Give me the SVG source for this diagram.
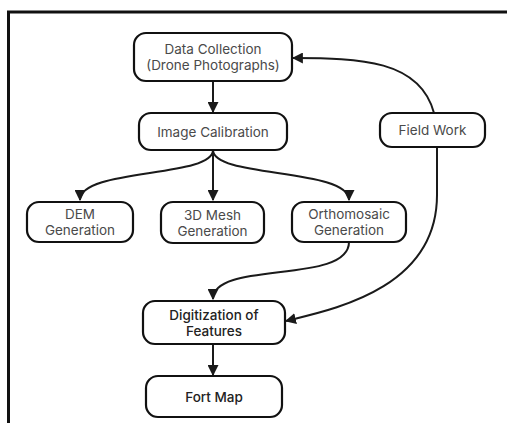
<svg xmlns="http://www.w3.org/2000/svg" width="507" height="423" viewBox="0 0 507 423">
<defs>
<style>
.n{fill:#fff;stroke:#111;stroke-width:2.2}
.t{font-family:Inter,"Liberation Sans",sans-serif;font-size:13.5px;fill:#4a4a4a;text-anchor:middle}
.b{fill:#222;font-weight:500}
.c{fill:none;stroke:#1a1a1a;stroke-width:2}
</style>
<marker id="ah" viewBox="0 0 10 10" refX="9" refY="5" markerWidth="5.5" markerHeight="5.5" orient="auto" markerUnits="strokeWidth">
<path d="M0,0 L10,5 L0,10 z" fill="#1a1a1a"/>
</marker>
</defs>
<rect width="507" height="423" fill="#fff"/>
<rect x="8.5" y="12" width="520" height="440" fill="none" stroke="#111" stroke-width="3"/>
<g id="connectors">
<path class="c" d="M213,81 L213,112" marker-end="url(#ah)"/>
<path class="c" d="M213,150 C213,178 80,168 80,200" marker-end="url(#ah)"/>
<path class="c" d="M213,150 L213,200" marker-end="url(#ah)"/>
<path class="c" d="M213,150 C213,178 349,168 349,200" marker-end="url(#ah)"/>
<path class="c" d="M349,242 C349,285 213,260 213,299" marker-end="url(#ah)"/>
<path class="c" d="M213,344 L213,375" marker-end="url(#ah)"/>
<path class="c" d="M434,113 C420,60 360,58 293,58" marker-end="url(#ah)"/>
<path class="c" d="M437,147 L437,195 C437,290 330,310 286,321" marker-end="url(#ah)"/>
</g>
<g id="data-collection">
<rect class="n" x="134" y="33" width="158" height="48" rx="12"/>
<text class="t" x="213" y="54">Data Collection</text>
<text class="t" x="213" y="70">(Drone Photographs)</text>
</g>
<g id="image-calibration">
<rect class="n" x="139" y="113" width="148" height="37" rx="12"/>
<text class="t" x="213" y="136.5">Image Calibration</text>
</g>
<g id="field-work">
<rect class="n" x="380" y="113" width="105" height="34" rx="12"/>
<text class="t" x="432.5" y="135">Field Work</text>
</g>
<g id="dem">
<rect class="n" x="27" y="202" width="106" height="40" rx="12"/>
<text class="t" x="80" y="219">DEM</text>
<text class="t" x="80" y="234.5">Generation</text>
</g>
<g id="mesh">
<rect class="n" x="161" y="202" width="103" height="41" rx="12"/>
<text class="t" x="212.5" y="220">3D Mesh</text>
<text class="t" x="212.5" y="235.5">Generation</text>
</g>
<g id="ortho">
<rect class="n" x="292" y="202" width="114" height="40" rx="12"/>
<text class="t" x="349" y="219">Orthomosaic</text>
<text class="t" x="349" y="234.5">Generation</text>
</g>
<g id="digitization">
<rect class="n" x="143" y="301" width="142" height="43" rx="12"/>
<text class="t b" x="214" y="319.5">Digitization of</text>
<text class="t b" x="214" y="335.5">Features</text>
</g>
<g id="fort-map">
<rect class="n" x="146" y="376" width="136" height="41" rx="12"/>
<text class="t b" x="214" y="401.5">Fort Map</text>
</g>
</svg>
